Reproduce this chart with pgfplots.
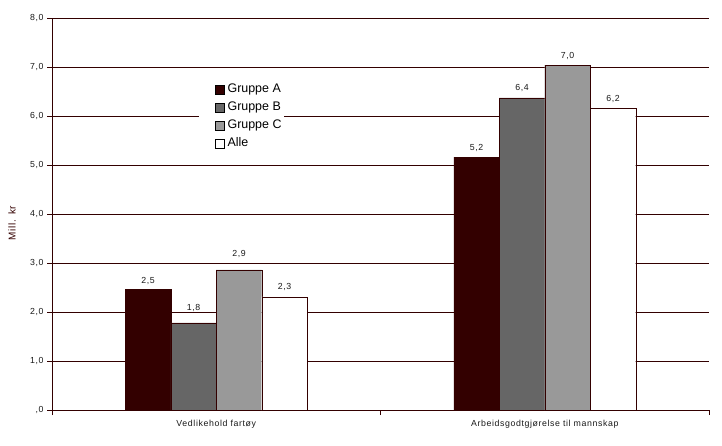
\documentclass[border=0pt]{standalone}
\usepackage{pgfplots}
\usepackage{pgfplotstable}
\pgfplotsset{compat=1.18}
\usepackage{fontspec}
\setmainfont{Liberation Sans}
\newfontfamily\lsfont[LetterSpace=7]{Liberation Sans}
\definecolor{maroon}{HTML}{330000}
\definecolor{gA}{HTML}{330000}
\definecolor{gB}{HTML}{666666}
\definecolor{gC}{HTML}{999999}
\pgfplotstableread{
x y s
0 2.46 5
1 5.16 5.5
}\tabA
\pgfplotstableread{
x y s
0 1.78 10.5
1 6.37 6
}\tabB
\pgfplotstableread{
x y s
0 2.86 12.5
1 7.04 5
}\tabC
\pgfplotstableread{
x y s
0 2.31 5.5
1 6.16 5.5
}\tabD
\begin{document}
\begin{tikzpicture}
\path[use as bounding box] (-52bp,-36bp) rectangle (670bp,410bp);
\begin{axis}[
  name=ax,
  at={(0,0)}, anchor=south west,
  scale only axis, width=657bp, height=392bp,
  xmin=-0.5, xmax=1.5, ymin=0, ymax=8,
  axis x line*=bottom, axis y line*=left,
  axis line style={draw=maroon, line width=0.8bp},
  ymajorgrids, grid style={draw=maroon, line width=0.8bp},
  ytick={0,1,2,3,4,5,6,7,8},
  yticklabels={{,0},{1,0},{2,0},{3,0},{4,0},{5,0},{6,0},{7,0},{8,0}},
  xtick={-0.5,0.5,1.5}, xticklabels={},
  extra x ticks={0,1},
  extra x tick labels={Vedlikehold fartøy, Arbeidsgodtgjørelse til mannskap},
  extra x tick style={major tick length=0pt, grid=none, tick label style={yshift=-7bp}},
  major tick length=5bp, tick align=outside,
  tick style={draw=maroon, line width=0.8bp},
  ticklabel style={font=\lsfont\fontsize{8.8}{10}\selectfont, text=black!90},
  ybar,
  bar width=0.1385,
  visualization depends on={\thisrow{s} \as \labshift},
  nodes near coords={\pgfmathprintnumber[fixed,fixed zerofill,precision=1,use comma,assume math mode=true]{\pgfplotspointmeta}},
  every node near coord/.append style={font=\lsfont\fontsize{8.8}{10}\selectfont, inner sep=0pt, yshift=\labshift bp, text=black!90},
  legend style={at={(0.2237,0.839)}, anchor=north west, draw=none, fill=white, inner sep=0pt,
    font=\fontsize{12.5}{14}\selectfont, row sep=2bp,
    nodes={inner sep=2bp, text height=9bp, text depth=3bp}},
  legend cell align=left,
  legend image code/.code={\path (-16bp,0) (10bp,0);\draw[#1, draw=black, line width=0.6bp] (0bp,-4.5bp) rectangle (9bp,4.5bp);},
]
\addplot[fill=gA, draw=maroon, bar shift=-0.2077] table[x=x,y=y] {\tabA};
\addplot[fill=gB, draw=maroon, bar shift=-0.0692] table[x=x,y=y] {\tabB};
\addplot[fill=gC, draw=maroon, bar shift=0.0692] table[x=x,y=y] {\tabC};
\addplot[fill=white, draw=maroon, bar shift=0.2077] table[x=x,y=y] {\tabD};
\legend{Gruppe A, Gruppe B, Gruppe C, Alle}
\end{axis}
\node[rotate=90, anchor=center, font=\lsfont\fontsize{10}{11}\selectfont, text=maroon] at (-40bp,187bp) {Mill. kr};
\end{tikzpicture}
\end{document}
